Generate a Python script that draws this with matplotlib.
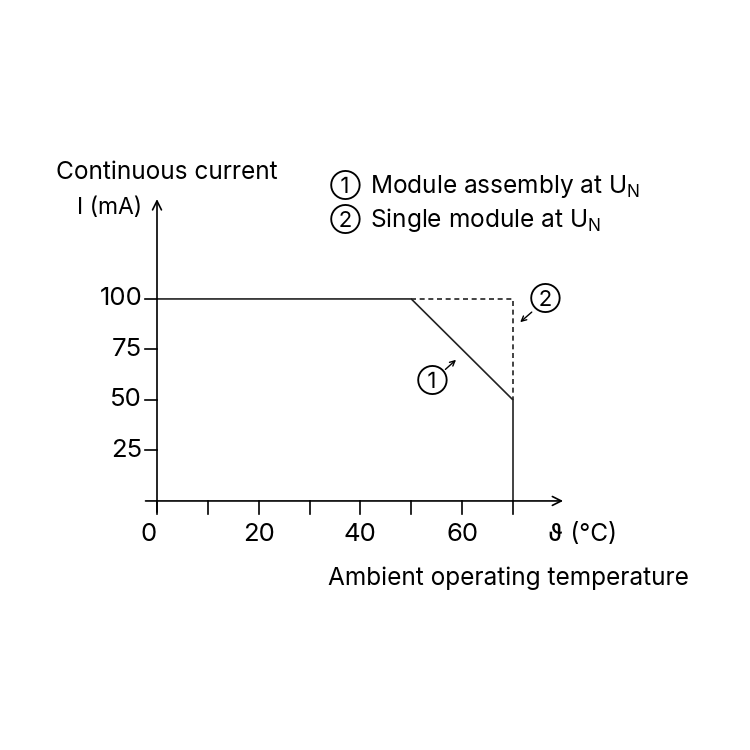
# derating curve: continuous current vs ambient temperature
import matplotlib.pyplot as plt

plt.rcParams['font.family'] = ['Inter', 'DejaVu Sans']

# curva 1: module assembly
temp_assembly = [0, 50, 70, 70]
current_assembly = [100, 100, 50, 0]
# curva 2: single module (dashed part)
temp_single = [50, 70, 70]
current_single = [100, 100, 50]

x_ticks = [0, 10, 20, 30, 40, 50, 60, 70]
x_labels = [0, 20, 40, 60]
y_ticks = [25, 50, 75, 100]

fig = plt.figure(figsize=(7.5, 7.5), dpi=100)
ax = fig.add_axes([0, 0, 1, 1])
ax.set_xlim(-30.87, 116.6)
ax.set_ylim(-123.3, 248.0)
ax.axis('off')

lw = 1.2
fs = 17.6
fs_tick = 18.5
fs_circ = 16

# ejes con flechas
ax.annotate('', xy=(80.4, 0), xytext=(-2.8, 0),
            arrowprops=dict(arrowstyle='->', lw=lw, color='black', mutation_scale=16))
ax.annotate('', xy=(0, 150.8), xytext=(0, -6.9),
            arrowprops=dict(arrowstyle='->', lw=lw, color='black', mutation_scale=16))

# ticks
for t in x_ticks:
    ax.plot([t, t], [0, -6.6], color='black', lw=lw)
for t in y_ticks:
    ax.plot([-2.4, 0], [t, t], color='black', lw=lw)

for t in x_labels:
    xpos = -1.7 if t == 0 else t
    ax.text(xpos, -16.5, str(t), ha='center', va='center', fontsize=fs_tick)
for t in y_ticks:
    ax.text(-2.9, t, str(t), ha='right', va='center', fontsize=fs_tick)

# curvas
ax.plot(temp_assembly, current_assembly, color='#222222', lw=lw)
ax.plot(temp_single, current_single, color='#222222', lw=lw, ls=(0, (3, 2.2)))

# etiquetas de ejes
ax.text(-19.9, 162.8, 'Continuous current', ha='left', va='center', fontsize=fs)
ax.text(-15.8, 145.2, 'I (mA)', ha='left', va='center', fontsize=16.5)
ax.text(76.9, -16.5, 'ϑ (°C)', ha='left', va='center', fontsize=fs)
ax.text(33.6, -38.2, 'Ambient operating temperature', ha='left', va='center', fontsize=fs)

# leyenda
ax.text(37.0, 156.6, '①', ha='center', va='center', fontsize=fs_circ)
ax.text(41.8, 155.9, 'Module assembly at U$_\\mathregular{N}$', ha='left', va='center', fontsize=fs)
ax.text(37.0, 139.7, '②', ha='center', va='center', fontsize=fs_circ)
ax.text(41.8, 139.0, 'Single module at U$_\\mathregular{N}$', ha='left', va='center', fontsize=fs)

# marcadores 1 y 2
ax.text(54.1, 59.8, '①', ha='center', va='center', fontsize=fs_circ)
ax.annotate('', xy=(59.2, 70.8), xytext=(56.3, 64.2),
            arrowprops=dict(arrowstyle='->', lw=1.0, color='black', mutation_scale=9))
ax.text(76.3, 100.7, '②', ha='center', va='center', fontsize=fs_circ)
ax.annotate('', xy=(71.0, 87.6), xytext=(74.1, 94.4),
            arrowprops=dict(arrowstyle='->', lw=1.0, color='black', mutation_scale=9))

fig.savefig('out.png', dpi=100)
